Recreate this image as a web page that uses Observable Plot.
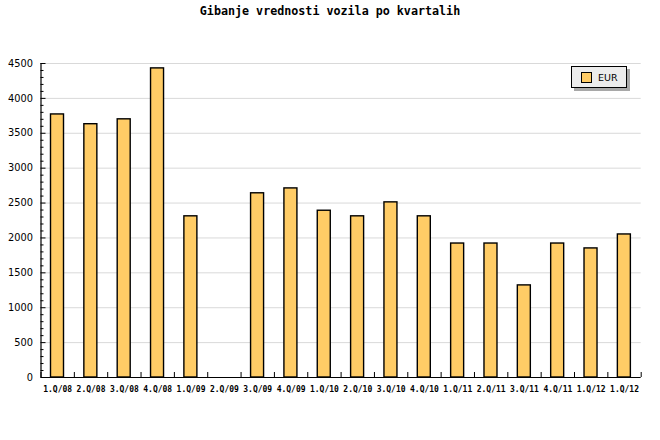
<!DOCTYPE html>
<html>
<head>
<meta charset="utf-8">
<script src="https://cdn.jsdelivr.net/npm/d3@7"></script>
<script src="https://cdn.jsdelivr.net/npm/@observablehq/plot@0.6"></script>
<style>
  body { margin: 0; background: #fff; width: 660px; height: 440px; position: relative; overflow: hidden; }
  #title { height: 24px; box-sizing: border-box; padding-top: 4px; line-height: 16px; text-align: center; font: bold 11.7px "DejaVu Sans Mono", monospace; color: #000; }
  #legend { position: absolute; left: 571px; top: 66px; width: 54px; height: 20px; border: 1px solid #000; background: #ececec; box-shadow: 3px 3px 0 #a8a8a8; font: 9.5px "DejaVu Sans", sans-serif; }
  #legend .sw { position: absolute; left: 9px; top: 5px; width: 9px; height: 9px; background: #ffcc66; border: 1px solid #000; }
  #legend .tx { position: absolute; left: 26px; top: 0; line-height: 21px; }
</style>
</head>
<body>
<div id="title">Gibanje vrednosti vozila po kvartalih</div>
<div id="chart"></div>
<div id="legend"><div class="sw"></div><div class="tx">EUR</div></div>
<script>
const labels = ["1.Q/08","2.Q/08","3.Q/08","4.Q/08","1.Q/09","2.Q/09","3.Q/09","4.Q/09","1.Q/10","2.Q/10","3.Q/10","4.Q/10","1.Q/11","2.Q/11","3.Q/11","4.Q/11","1.Q/12","1.Q/12"];
const values = [3770,3630,3700,4430,2310,0,2640,2710,2390,2310,2510,2310,1920,1920,1320,1920,1850,2050];
const majorTicks = [0,500,1000,1500,2000,2500,3000,3500,4000,4500];
const minorTicks = d3.range(0, 4501, 100).filter(v => v % 500 !== 0);

const data = labels.map((l, i) => ({i, label: l, value: values[i]}));
const n = labels.length;

const chart = Plot.plot({
  width: 660,
  height: 416,
  marginTop: 39,
  marginBottom: 63,
  marginLeft: 40.5,
  marginRight: 19.3,
  x: {domain: [0, n], axis: null},
  y: {domain: [0, 4500], axis: null},
  style: {background: "transparent"},
  marks: [
    Plot.ruleY(majorTicks.filter(v => v > 0), {stroke: "#d9d9d9", strokeWidth: 1}),
    Plot.rectY(data, {x1: d => d.i + 0.3, x2: d => d.i + 0.69, y1: 0, y2: "value", fill: "#ffcc66", stroke: "#000", strokeWidth: 1.4}),
    Plot.axisY({ticks: majorTicks, tickFormat: d3.format("d"), label: null, tickSize: 0, tickPadding: 8, fontSize: 9.8, fontFamily: "DejaVu Sans", fill: "#000"}),
    Plot.axisY({ticks: majorTicks, tickSize: -5, text: null, label: null, stroke: "#000"}),
    Plot.axisY({ticks: minorTicks, tickSize: -3, text: null, label: null, stroke: "#000"}),
    Plot.axisX({ticks: d3.range(n).map(i => i + 0.5), tickFormat: v => labels[Math.floor(v)], label: null, tickSize: 0, tickPadding: 9, fontSize: 8, fontFamily: "DejaVu Sans Mono", fontWeight: "bold", fill: "#000"}),
    Plot.axisX({ticks: d3.range(n + 1), tickSize: -5, text: null, label: null, stroke: "#000"}),
    Plot.ruleX([0], {stroke: "#000", strokeWidth: 1.2}),
    Plot.ruleY([0], {stroke: "#000", strokeWidth: 1.2})
  ]
});
document.getElementById("chart").appendChild(chart);
</script>
</body>
</html>
